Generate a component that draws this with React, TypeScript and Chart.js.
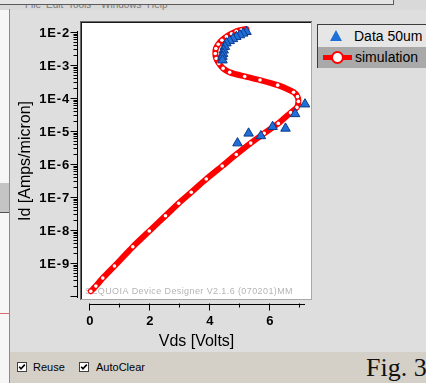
import React, { useEffect, useRef } from 'react';
import { Chart, registerables } from 'chart.js';

Chart.register(...registerables);

// ---- data ----
const seriesNames = ['Data 50um', 'simulation'];

const dataVds = [5.24, 5.13, 5.02, 4.9, 4.79, 4.68, 4.57, 4.52, 4.48, 4.46, 4.44, 4.44, 4.94, 5.31, 5.72, 6.11, 6.54, 6.86, 7.19];
const dataId = [1.02e-2, 9.1e-3, 8.1e-3, 7.2e-3, 6.2e-3, 5.4e-3, 4.6e-3, 3.6e-3, 2.8e-3, 2.2e-3, 1.8e-3, 1.4e-3, 4.3e-6, 8.5e-6, 7.1e-6, 1.35e-5, 1.2e-5, 3.3e-5, 6.5e-5];

const simVds = [0.05, 0.22, 0.45, 0.84, 1.45, 2.0, 2.54, 2.98, 3.4, 3.9, 4.43, 4.9, 5.38, 5.83, 6.3, 6.71, 6.92, 6.97, 6.94, 6.81, 6.28, 5.69, 5.18, 4.68, 4.46, 4.32, 4.23, 4.2, 4.22, 4.3, 4.42, 4.57, 4.74, 4.9, 5.06, 5.24];
const simId = [1.4e-10, 2.0e-10, 3.5e-10, 8.1e-10, 3.1e-9, 9.3e-9, 2.7e-8, 6.5e-8, 1.4e-7, 3.5e-7, 8.7e-7, 1.95e-6, 4.3e-6, 8.5e-6, 1.7e-5, 3.6e-5, 5.2e-5, 7.9e-5, 1.1e-4, 1.5e-4, 2.45e-4, 3.5e-4, 4.5e-4, 6.0e-4, 7.9e-4, 1.12e-3, 1.58e-3, 2.24e-3, 3.16e-3, 4.27e-3, 5.62e-3, 7.24e-3, 8.9e-3, 1.05e-2, 1.15e-2, 1.23e-2];

const xTickValues = [0, 1, 2, 3, 4, 5, 6, 7];
const xLabelValues = [0, 2, 4, 6];
const xTickLabels = ['0', '2', '4', '6'];
const yDecadeExponents = [-10, -9, -8, -7, -6, -5, -4, -3, -2];
const yLabelValues = [1e-2, 1e-3, 1e-4, 1e-5, 1e-6, 1e-7, 1e-8, 1e-9];
const yTickLabels = ['1E-2', '1E-3', '1E-4', '1E-5', '1E-6', '1E-7', '1E-8', '1E-9'];
const xTitle = 'Vds [Volts]';
const yTitle = 'Id [Amps/micron]';
const watermark = 'SEQUOIA Device Designer V2.1.6 (070201)MM';
const menuItems = ['File', 'Edit', 'Tools', 'Windows', 'Help'];
const menuX = [25, 46, 68, 101, 147];

const FONT = 'Arial, "Liberation Sans", sans-serif';

const framePlugin = {
  id: 'framePlugin',
  beforeDraw(chart: any) {
    const { ctx, chartArea: a } = chart;
    ctx.save();
    ctx.fillStyle = '#ffffff';
    ctx.fillRect(a.left, a.top, a.right - a.left, a.bottom - a.top);
    ctx.fillStyle = '#6a6a6a';
    ctx.fillRect(a.left - 2, a.top - 2, a.right - a.left + 3, 1);
    ctx.fillRect(a.left - 2, a.top - 2, 1, a.bottom - a.top + 3);
    ctx.fillStyle = '#1a1a1a';
    ctx.fillRect(a.left - 1, a.top - 1, a.right - a.left + 1, 1);
    ctx.fillRect(a.left - 1, a.top - 1, 1, a.bottom - a.top + 1);
    ctx.fillStyle = '#a8a8a8';
    ctx.fillRect(a.left - 1, a.bottom, a.right - a.left + 2, 1);
    ctx.fillRect(a.right, a.top - 1, 1, a.bottom - a.top + 2);
    ctx.restore();
  },
  beforeDatasetsDraw(chart: any) {
    const { ctx, chartArea: a } = chart;
    ctx.save();
    ctx.fillStyle = '#b4b4b4';
    ctx.font = `9px ${FONT}`;
    ctx.textBaseline = 'middle';
    ctx.textAlign = 'left';
    (ctx as any).letterSpacing = '0.4px';
    ctx.fillText(watermark, a.left + 3, a.bottom - 7);
    ctx.restore();
  },
  afterDraw(chart: any) {
    const { ctx } = chart;
    const xs = chart.scales.x;
    const ys = chart.scales.y;
    ctx.save();
    ctx.strokeStyle = '#000000';
    ctx.fillStyle = '#000000';
    ctx.lineWidth = 1;

    // ---- Y axis ----
    const axX = 77.5;
    const yTop = ys.getPixelForValue(1e-2);
    const yBot = ys.getPixelForValue(1e-10);
    ctx.beginPath();
    ctx.moveTo(axX, Math.round(yTop) - 1);
    ctx.lineTo(axX, Math.round(yBot) + 2);
    yDecadeExponents.forEach((e) => {
      const base = Math.pow(10, e);
      const py = Math.round(ys.getPixelForValue(base)) + 0.5;
      ctx.moveTo(axX - 7, py);
      ctx.lineTo(axX, py);
      if (e < -2) {
        for (let m = 2; m <= 9; m++) {
          const p = Math.round(ys.getPixelForValue(m * base)) + 0.5;
          ctx.moveTo(axX - 4, p);
          ctx.lineTo(axX, p);
        }
      }
    });
    ctx.stroke();
    ctx.font = `bold 13px ${FONT}`;
    (ctx as any).letterSpacing = '0.8px';
    ctx.textAlign = 'right';
    ctx.textBaseline = 'middle';
    yLabelValues.forEach((v, i) => {
      ctx.fillText(yTickLabels[i], 70, ys.getPixelForValue(v) + 1);
    });
    (ctx as any).letterSpacing = '0px';

    // ---- X axis ----
    const axY = 304.5;
    ctx.beginPath();
    ctx.moveTo(Math.round(xs.getPixelForValue(0)), axY);
    ctx.lineTo(Math.round(xs.getPixelForValue(7.2)), axY);
    xTickValues.forEach((v) => {
      const px = Math.round(xs.getPixelForValue(v)) + 0.5;
      const major = v % 2 === 0;
      ctx.moveTo(px, axY - 1);
      ctx.lineTo(px, axY + (major ? 6 : 3));
    });
    ctx.stroke();
    ctx.textAlign = 'center';
    ctx.textBaseline = 'middle';
    xLabelValues.forEach((v, i) => {
      ctx.fillText(xTickLabels[i], xs.getPixelForValue(v) + 0.5, 321);
    });

    // ---- titles ----
    ctx.font = `16px ${FONT}`;
    const a = chart.chartArea;
    ctx.fillText(xTitle, (a.left + a.right) / 2, 342);
    ctx.translate(26, (a.top + a.bottom) / 2);
    ctx.rotate(-Math.PI / 2);
    ctx.fillText(yTitle, 0, 0);
    ctx.restore();
  },
};

function CheckBox({ left, top }: { left: number; top: number }) {
  return (
    <svg width={10} height={10} style={{ position: 'absolute', left, top }} viewBox="0 0 10 10">
      <rect x={0.5} y={0.5} width={9} height={9} fill="#ffffff" stroke="#404040" strokeWidth={1} />
      <polyline points="2.2,4.8 4,6.8 7.8,2.6" fill="none" stroke="#000000" strokeWidth={1.6} />
    </svg>
  );
}

export default function App() {
  const canvasRef = useRef<HTMLCanvasElement | null>(null);

  useEffect(() => {
    if (!canvasRef.current) return;
    const chart = new Chart(canvasRef.current, {
      type: 'scatter',
      data: {
        datasets: [
          {
            label: seriesNames[0],
            data: dataVds.map((x, i) => ({ x, y: dataId[i] })),
            showLine: false,
            pointStyle: 'triangle',
            pointRadius: 5.5,
            pointBackgroundColor: '#1f6fd8',
            pointBorderColor: '#0c3a8c',
            pointBorderWidth: 1,
            order: 0,
          },
          {
            label: seriesNames[1],
            data: simVds.map((x, i) => ({ x, y: simId[i] })),
            showLine: true,
            borderColor: '#ff0000',
            borderWidth: 6,
            borderCapStyle: 'round',
            borderJoinStyle: 'round',
            tension: 0.25,
            pointRadius: 1.8,
            pointBackgroundColor: '#ffffff',
            pointBorderWidth: 0,
            order: 1,
          },
        ],
      },
      options: {
        animation: false,
        responsive: false,
        maintainAspectRatio: false,
        layout: { padding: { left: 82, top: 23, right: 115, bottom: 84 } },
        scales: {
          x: { type: 'linear', min: -0.243, max: 7.39, display: false },
          y: { type: 'logarithmic', min: Math.pow(10, -10.09), max: Math.pow(10, -1.727), display: false },
        },
        plugins: {
          legend: { display: false },
          tooltip: { enabled: false },
        },
      } as any,
      plugins: [framePlugin],
    });
    return () => chart.destroy();
  }, []);

  return (
    <div
      style={{
        position: 'fixed',
        left: 0,
        top: 0,
        width: 426,
        height: 383,
        overflow: 'hidden',
        background: '#dedede',
        fontFamily: FONT,
      }}
    >
      {/* top menu strip */}
      <div style={{ position: 'absolute', left: 0, top: 0, width: 426, height: 10, background: '#d9d9d9' }} />
      {menuItems.map((m, i) => (
        <div
          key={m}
          style={{ position: 'absolute', left: menuX[i], top: -1, fontSize: 10, lineHeight: '12px', color: '#7a7a7a', whiteSpace: 'nowrap' }}
        >
          {m}
        </div>
      ))}
      <div style={{ position: 'absolute', left: 0, top: 0, width: 393, height: 4, background: '#e4e4e4', borderBottom: '1px solid #5a5a5a', borderRight: '1px solid #5a5a5a' }} />
      {/* left strip */}
      <div style={{ position: 'absolute', left: 0, top: 10, width: 9, height: 373, background: '#f6f6f6' }} />
      <div style={{ position: 'absolute', left: 0, top: 183, width: 9, height: 29, background: '#c4c4c4', borderBottom: '1px solid #505050' }} />
      <div style={{ position: 'absolute', left: 0, top: 313, width: 9, height: 1, background: '#d86a6a' }} />
      <div style={{ position: 'absolute', left: 9, top: 9, width: 1, height: 374, background: '#8a8a8a' }} />
      {/* bottom bar */}
      <div style={{ position: 'absolute', left: 10, top: 352, width: 416, height: 31, background: '#d4d0c8' }} />
      <CheckBox left={17} top={362} />
      <div style={{ position: 'absolute', left: 33, top: 360, fontSize: 11, lineHeight: '14px', color: '#000' }}>Reuse</div>
      <CheckBox left={79} top={362} />
      <div style={{ position: 'absolute', left: 96, top: 360, fontSize: 11, lineHeight: '14px', color: '#000' }}>AutoClear</div>
      <div
        style={{
          position: 'absolute',
          left: 366,
          top: 352,
          fontSize: 26,
          lineHeight: '32px',
          fontFamily: '"Liberation Serif", "Times New Roman", serif',
          color: '#111',
          whiteSpace: 'nowrap',
        }}
      >
        Fig. 3
      </div>

      <canvas ref={canvasRef} width={426} height={383} style={{ position: 'absolute', left: 0, top: 0, width: 426, height: 383 }} />

      {/* legend */}
      <div
        style={{
          position: 'absolute',
          left: 317,
          top: 24,
          width: 120,
          height: 43,
          borderLeft: '1px solid #3c3c3c',
          borderTop: '1px solid #3c3c3c',
          background: '#e6e6e6',
        }}
      >
        <div style={{ position: 'absolute', left: 0, top: 0, width: 120, height: 22, background: '#e6e6e6' }}>
          <div
            style={{
              position: 'absolute',
              left: 12,
              top: 5,
              width: 0,
              height: 0,
              borderLeft: '6px solid transparent',
              borderRight: '6px solid transparent',
              borderBottom: '11px solid #1f6fd8',
            }}
          />
          <div style={{ position: 'absolute', left: 36, top: 3, fontSize: 14, lineHeight: '16px', color: '#000', whiteSpace: 'nowrap' }}>
            {seriesNames[0]}
          </div>
        </div>
        <div style={{ position: 'absolute', left: 0, top: 22, width: 120, height: 21, background: '#a9a9a9' }}>
          <div style={{ position: 'absolute', left: 5, top: 8, width: 29, height: 5, background: '#ff0000' }} />
          <div
            style={{
              position: 'absolute',
              left: 13,
              top: 4,
              width: 9,
              height: 9,
              borderRadius: '50%',
              background: '#ffffff',
              border: '2px solid #ff0000',
            }}
          />
          <div style={{ position: 'absolute', left: 37, top: 2, fontSize: 14, lineHeight: '16px', color: '#000', whiteSpace: 'nowrap' }}>
            {seriesNames[1]}
          </div>
        </div>
      </div>
    </div>
  );
}
